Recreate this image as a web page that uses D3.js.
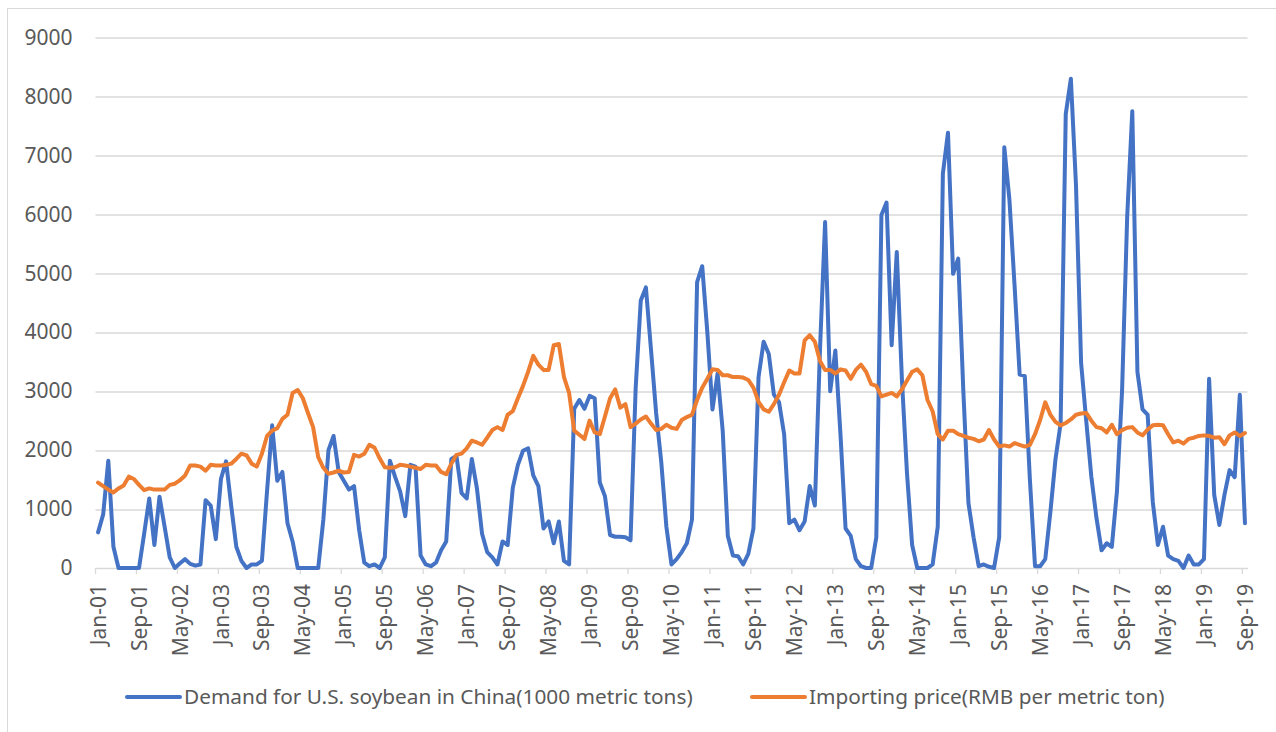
<!DOCTYPE html>
<html>
<head>
<meta charset="utf-8">
<script src="https://cdn.jsdelivr.net/npm/d3@7"></script>
<style>
    body { margin: 0; background: #ffffff; }
    text { font-family: "Noto Sans", sans-serif; fill: #595959; }
</style>
</head>
<body>
<div id="wrapper"></div>
<script>
// monthly values, Jan-01 .. Sep-19
const demand = [
    605, 910, 1820, 360, 0, 0, 0, 0, 0, 580, 1180, 390,
    1210, 700, 180, 0, 80, 150, 70, 40, 60, 1150, 1060, 490,
    1510, 1810, 1060, 360, 120, 0, 60, 60, 120, 1300, 2420, 1480,
    1630, 760, 450, 0, 0, 0, 0, 0, 820, 2000, 2240, 1630,
    1480, 1330, 1390, 640, 90, 30, 60, 0, 180, 1820, 1550, 1300,
    880, 1750, 1720, 210, 60, 30, 90, 300, 450, 1850, 1900, 1270,
    1180, 1850, 1350, 580, 270, 180, 60, 450, 390, 1360, 1750, 1990,
    2030, 1570, 1390, 670, 790, 420, 790, 120, 60, 2700, 2850, 2700,
    2920, 2880, 1450, 1220, 560, 530, 530, 520, 470, 3050, 4540, 4760,
    3700, 2630, 1800, 700, 60, 150, 270, 420, 820, 4850, 5120, 4000,
    2690, 3300, 2330, 545, 210, 200, 60, 240, 670, 3240, 3840, 3630,
    2940, 2815, 2270, 760, 820, 640, 790, 1390, 1060, 3700, 5870, 3000,
    3690, 2270, 670, 545, 150, 30, 0, 0, 520, 5990, 6200, 3780,
    5360, 3200, 1600, 390, 0, 0, 0, 60, 700, 6690, 7385, 4990,
    5250, 3000, 1100, 520, 30, 60, 20, 0, 520, 7140, 6250, 4800,
    3280, 3260, 1500, 30, 30, 150, 950, 1850, 2450, 7700, 8300, 6500,
    3480, 2500, 1550, 850, 300, 420, 360, 1300, 3000, 5960, 7750, 3330,
    2690, 2600, 1120, 390, 700, 210, 150, 120, 0, 210, 60, 60,
    150, 3210, 1240, 730, 1240, 1660, 1540, 2940, 760
];

const price = [
    1450, 1390, 1330, 1280, 1350, 1400, 1550, 1510, 1410, 1320, 1350, 1330,
    1330, 1330, 1410, 1430, 1490, 1570, 1740, 1740, 1720, 1650, 1750, 1740,
    1740, 1750, 1770, 1850, 1940, 1910, 1770, 1720, 1940, 2240, 2330, 2370,
    2530, 2600, 2970, 3020, 2880, 2630, 2390, 1880, 1700, 1600, 1620, 1650,
    1620, 1630, 1920, 1890, 1940, 2090, 2040, 1860, 1710, 1700, 1710, 1750,
    1740, 1720, 1700, 1680, 1750, 1740, 1740, 1630, 1590, 1770, 1920, 1940,
    2030, 2160, 2130, 2090, 2210, 2340, 2390, 2340, 2600, 2660, 2880, 3090,
    3330, 3600, 3450, 3360, 3360, 3780, 3800, 3240, 2970, 2330, 2260, 2190,
    2500, 2300, 2270, 2570, 2880, 3030, 2720, 2780, 2390, 2450, 2520, 2570,
    2450, 2340, 2360, 2430, 2380, 2360, 2510, 2560, 2600, 2850, 3060, 3210,
    3370, 3360, 3270, 3270, 3240, 3240, 3230, 3190, 3060, 2820, 2690, 2650,
    2780, 2940, 3150, 3350, 3300, 3300, 3860, 3950, 3840, 3510, 3360, 3360,
    3300, 3370, 3350, 3210, 3360, 3450, 3330, 3120, 3090, 2910, 2940, 2970,
    2910, 3030, 3180, 3330, 3370, 3270, 2850, 2660, 2270, 2180, 2330, 2330,
    2270, 2240, 2210, 2190, 2150, 2180, 2340, 2180, 2060, 2080, 2060, 2120,
    2090, 2060, 2090, 2270, 2510, 2810, 2600, 2480, 2420, 2460, 2520, 2600,
    2620, 2630, 2500, 2390, 2370, 2300, 2430, 2270, 2340, 2380, 2390, 2300,
    2250, 2350, 2420, 2430, 2420, 2270, 2130, 2160, 2110, 2190, 2210, 2240,
    2250, 2240, 2210, 2220, 2100, 2250, 2300, 2240, 2290
];

const tickLabels = [
    'Jan-01', 'Sep-01', 'May-02', 'Jan-03', 'Sep-03', 'May-04', 'Jan-05', 'Sep-05',
    'May-06', 'Jan-07', 'Sep-07', 'May-08', 'Jan-09', 'Sep-09', 'May-10', 'Jan-11',
    'Sep-11', 'May-12', 'Jan-13', 'Sep-13', 'May-14', 'Jan-15', 'Sep-15', 'May-16',
    'Jan-17', 'Sep-17', 'May-18', 'Jan-19', 'Sep-19'
];
const tickEvery = 8;

const yTicks = [0, 1000, 2000, 3000, 4000, 5000, 6000, 7000, 8000, 9000];

const seriesNames = [
    'Demand for U.S. soybean in China(1000 metric tons)',
    'Importing price(RMB per metric ton)'
];
const seriesColors = ['#4472C4', '#ED7D31'];

function drawChart() {

    const months = d3.range(demand.length);
    const series = [demand, price];

    // 1. Dimensions
    const dimensions = {
        width: 1276,
        height: 732,
        margin: {
            top: 37.5,
            right: 28.5,
            bottom: 164,
            left: 95.5,
        },
    };

    dimensions.boundedWidth = dimensions.width - dimensions.margin.left - dimensions.margin.right;
    dimensions.boundedHeight = dimensions.height - dimensions.margin.top - dimensions.margin.bottom;

    // 2. Draw canvas
    const wrapper = d3.select('#wrapper')
        .append('svg')
        .attr('width', dimensions.width)
        .attr('height', dimensions.height);

    wrapper.append('rect')
        .attr('x', 7.5)
        .attr('y', 8.5)
        .attr('width', dimensions.width)
        .attr('height', dimensions.height)
        .attr('fill', '#ffffff')
        .attr('stroke', '#d9d9d9');

    const bounds = wrapper.append('g')
        .attr('transform', `translate(${dimensions.margin.left}, ${dimensions.margin.top})`);

    // 3. Scales
    const xScale = d3.scaleBand()
        .domain(months)
        .range([0, dimensions.boundedWidth])
        .padding(0);

    const bw = xScale.bandwidth();
    const xCenter = i => xScale(i) + bw / 2;

    const yScale = d3.scaleLinear()
        .domain([0, d3.max(yTicks)])
        .range([dimensions.boundedHeight, 0]);

    // 4. Gridlines and y axis
    bounds.append('g')
        .selectAll('line')
        .data(yTicks.filter(d => d > 0))
        .join('line')
        .attr('x1', 0)
        .attr('x2', dimensions.boundedWidth)
        .attr('y1', d => Math.round(yScale(d)) + 0.5)
        .attr('y2', d => Math.round(yScale(d)) + 0.5)
        .attr('stroke', '#d9d9d9')
        .attr('stroke-width', 1.3);

    const yAxisGenerator = d3.axisLeft(yScale)
        .tickValues(yTicks)
        .tickFormat(d3.format('d'))
        .tickSize(0)
        .tickPadding(23);

    const yAxis = bounds.append('g').call(yAxisGenerator);
    yAxis.select('.domain').remove();
    yAxis.selectAll('text')
        .attr('font-size', '21px')
        .attr('font-family', '"Noto Sans", sans-serif')
        .attr('fill', '#595959');

    // 5. X axis
    const xAxisGenerator = d3.axisBottom(xScale)
        .tickValues(months.filter(i => i % tickEvery === 0))
        .tickFormat(i => tickLabels[i / tickEvery])
        .tickSizeOuter(0)
        .tickSizeInner(6);

    const xAxis = bounds.append('g')
        .attr('transform', `translate(0, ${dimensions.boundedHeight})`)
        .call(xAxisGenerator);

    xAxis.select('.domain')
        .attr('stroke', '#d9d9d9')
        .attr('stroke-width', 1.3);

    xAxis.selectAll('.tick line')
        .attr('x1', -bw / 2)
        .attr('x2', -bw / 2)
        .attr('stroke', '#d9d9d9')
        .attr('stroke-width', 1.3);

    xAxis.selectAll('.tick text')
        .attr('transform', 'rotate(-90)')
        .attr('x', -16)
        .attr('y', 0)
        .attr('dy', '0.36em')
        .attr('text-anchor', 'end')
        .attr('font-size', '21px')
        .attr('font-family', '"Noto Sans", sans-serif')
        .attr('fill', '#595959');

    // 6. Lines
    const lineGenerator = d3.line()
        .x((d, i) => xCenter(i))
        .y(d => yScale(d));

    bounds.append('g')
        .selectAll('path')
        .data(series)
        .join('path')
        .attr('d', d => lineGenerator(d))
        .attr('fill', 'none')
        .attr('stroke', (d, i) => seriesColors[i])
        .attr('stroke-width', 4)
        .attr('stroke-linejoin', 'round')
        .attr('stroke-linecap', 'round');

    // 7. Legend
    const legendY = 697;
    const legendX = [127, 752];

    const legend = wrapper.append('g')
        .selectAll('g')
        .data(seriesNames)
        .join('g')
        .attr('transform', (d, i) => `translate(${legendX[i]}, ${legendY})`);

    legend.append('line')
        .attr('x1', 0)
        .attr('x2', 53)
        .attr('stroke', (d, i) => seriesColors[i])
        .attr('stroke-width', 4)
        .attr('stroke-linecap', 'round');

    legend.append('text')
        .attr('x', 57)
        .attr('dy', '0.35em')
        .attr('font-size', '20.8px')
        .text(d => d);
}

drawChart();
</script>
</body>
</html>
